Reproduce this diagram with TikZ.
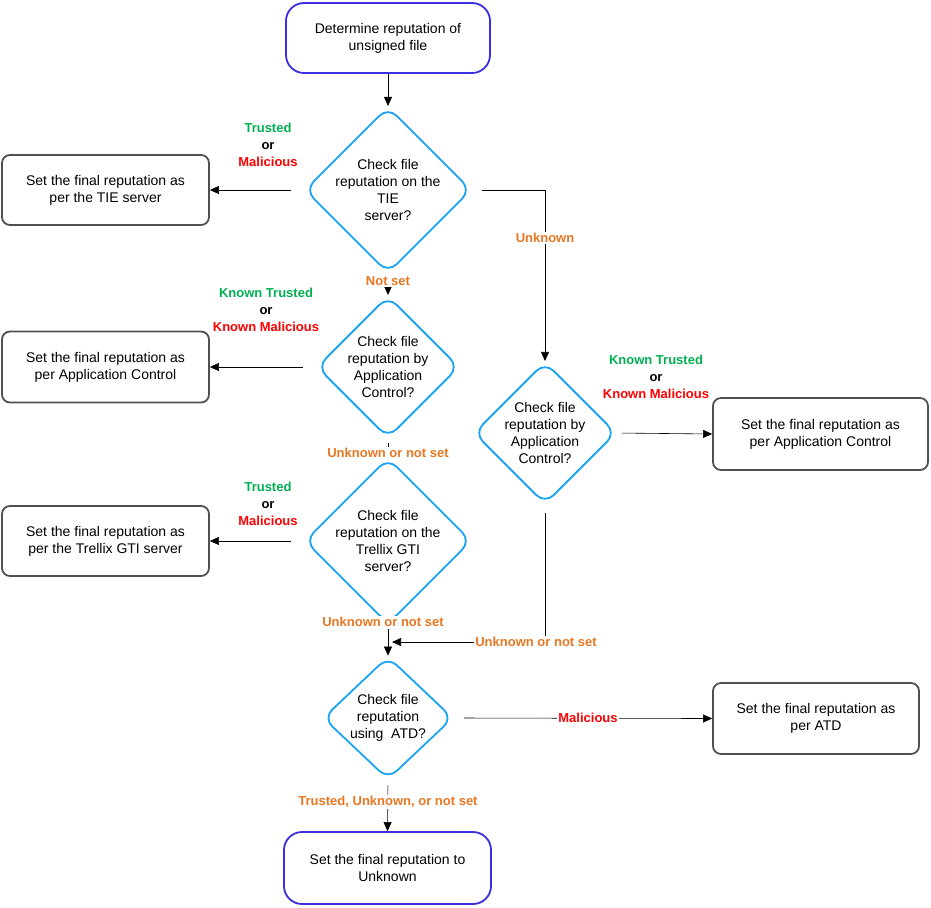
\documentclass[tikz,border=0pt]{standalone}
\usepackage{fontspec}
\setmainfont{Liberation Sans}
\usetikzlibrary{shapes.geometric,arrows.meta}
\definecolor{dia}{HTML}{1AA3F5}
\definecolor{term}{HTML}{3A2FE0}
\definecolor{box}{HTML}{505050}
\definecolor{grn}{HTML}{00B050}
\definecolor{org}{HTML}{E87722}
\begin{document}
\begin{tikzpicture}[x=1pt,y=-1pt,font=\fontsize{14}{17}\selectfont,
 term/.style={draw=term,line width=1.8pt,rounded corners=18pt,align=center,inner sep=0},
 box/.style={draw=box,line width=1.8pt,rounded corners=8pt,align=center,inner sep=0},
 dia/.style={draw=dia,line width=1.8pt,diamond,rounded corners=12pt,align=center,inner sep=0},
 lab/.style={font=\fontsize{13}{17}\selectfont\bfseries,align=center},
 arr/.style={-{Triangle[length=9pt,width=8pt]},line width=0.6pt},
 ln/.style={line width=0.6pt}]
\useasboundingbox (0,0) rectangle (931,907);
\node[term,minimum width=204,minimum height=70] (start) at (388,38) {Determine reputation of\\unsigned file};
\node[dia,minimum width=142,minimum height=110] (d1) at (388,190) {Check file\\reputation on the\\TIE\\server?};
\node[box,minimum width=207,minimum height=70] (b1) at (105.5,190) {Set the final reputation as\\per the TIE server};
\node[dia,minimum width=142,minimum height=110] (d2) at (388,367) {Check file\\reputation by\\Application\\Control?};
\node[box,minimum width=207,minimum height=71] (b2) at (105.5,367) {Set the final reputation as\\per Application Control};
\node[dia,minimum width=142,minimum height=112] (d3) at (388,541) {Check file\\reputation on the\\Trellix GTI\\server?};
\node[box,minimum width=207,minimum height=70] (b3) at (105.5,541) {Set the final reputation as\\per the Trellix GTI server};
\node[dia,minimum width=135,minimum height=137] (d4) at (545,433) {Check file\\reputation by\\Application\\Control?};
\node[box,minimum width=215,minimum height=72] (b4) at (820.5,434) {Set the final reputation as\\per Application Control};
\node[dia,minimum width=130,minimum height=100] (d5) at (388,718) {Check file\\reputation\\using~~ATD?};
\node[box,minimum width=206,minimum height=71] (b5) at (816,718.5) {Set the final reputation as\\per ATD};
\node[term,minimum width=207,minimum height=72] (end) at (387.5,868) {Set the final reputation to\\Unknown};
\coordinate (c1) at (545,190);
\coordinate (c2) at (545,642);
\coordinate (c3) at (388,642);

\draw[arr] (start) -- (d1);
\draw[arr,shorten <=13pt] (d1.west) -- (b1.east);
\draw[arr,shorten <=4pt] (d1.south) -- (d2.north);
\draw[arr,shorten <=13pt] (d2.west) -- (b2.east);
\draw[arr,shorten <=4pt] (d2.south) -- (d3.north);
\draw[arr,shorten <=13pt] (d3.west) -- (b3.east);
\draw[arr,shorten <=4pt] (d3.south) -- (d5.north);
\draw[ln,shorten <=10pt] (d1.east) -- (c1);
\draw[arr] (c1) -- (d4.north);
\draw[arr,shorten <=5pt] (d4.east) -- (b4.west);
\draw[ln,shorten <=8pt] (d4.south) -- (c2);
\draw[arr] (c2) -- ([xshift=4pt]c3);
\draw[arr,shorten <=10pt] (d5.east) -- (b5.west);
\draw[arr,shorten <=5pt] (d5.south) -- (end.north);

\node[lab] at (268,145) {\textcolor{grn}{Trusted}\\or\\\textcolor{red}{Malicious}};
\node[lab] at (266,310) {\textcolor{grn}{Known Trusted}\\or\\\textcolor{red}{Known Malicious}};
\node[lab] at (268,504) {\textcolor{grn}{Trusted}\\or\\\textcolor{red}{Malicious}};
\node[lab] at (656,377) {\textcolor{grn}{Known Trusted}\\or\\\textcolor{red}{Known Malicious}};
\node[lab,text=org,fill=white,inner sep=1pt] at (545,238) {Unknown};
\node[lab,text=org,fill=white,inner sep=1pt] at (388,281) {Not set};
\node[lab,text=org,fill=white,inner sep=1pt] at (388,453) {Unknown or not set};
\node[lab,text=org,fill=white,inner sep=1pt] at (383,622) {Unknown or not set};
\node[lab,text=org,fill=white,inner sep=1pt] at (536,642) {Unknown or not set};
\node[lab,text=red,fill=white,inner sep=1pt] at (588,718) {Malicious};
\node[lab,text=org,fill=white,inner sep=1pt] at (388,802) {Trusted, Unknown, or not set};
\end{tikzpicture}
\end{document}
